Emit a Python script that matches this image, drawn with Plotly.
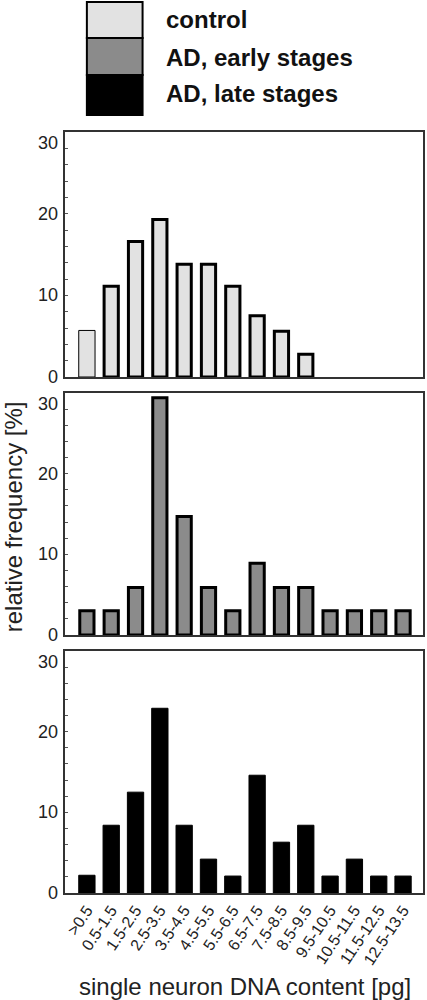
import plotly.graph_objects as go

# ---------------- data ----------------
categories = [">0.5", "0.5-1.5", "1.5-2.5", "2.5-3.5", "3.5-4.5", "4.5-5.5", "5.5-6.5",
              "6.5-7.5", "7.5-8.5", "8.5-9.5", "9.5-10.5", "10.5-11.5", "11.5-12.5", "12.5-13.5"]
control = [5.7, 11.1, 16.6, 19.3, 13.8, 13.8, 11.1, 7.5, 5.6, 2.8, None, None, None, None]
ad_early = [3.0, 3.0, 5.9, 29.4, 14.7, 5.9, 3.0, 8.9, 5.9, 5.9, 3.0, 3.0, 3.0, 3.0]
ad_late = [2.2, 8.4, 12.5, 22.9, 8.4, 4.2, 2.1, 14.6, 6.3, 8.4, 2.1, 4.2, 2.1, 2.1]
y_tick_values = [0, 10, 20, 30]
series_names = ["control", "AD, early stages", "AD, late stages"]
series_colors = ["#e2e2e2", "#8b8b8b", "#000000"]

FONT = "Liberation Sans, Arial, sans-serif"
W, H = 427, 1000
ML, MR, MT, MB = 65, 2, 132, 107
plot_h = H - MT - MB
plot_w = W - ML - MR

def py(px):  # page pixel y -> paper fraction
    return (H - MB - px) / plot_h

def pxx(px):  # page pixel x -> paper fraction
    return (px - ML) / plot_w

xpos = list(range(len(categories)))

# outline widths: first control bar thin, others thick
ctrl_lw = [1] + [3] * (len(categories) - 1)
ctrl_w = [0.67] + [0.585] * (len(categories) - 1)

fig = go.Figure()
fig.add_trace(go.Bar(x=xpos, y=control, xaxis="x", yaxis="y", width=ctrl_w,
                     marker=dict(color=series_colors[0], line=dict(color="#000", width=ctrl_lw)),
                     name=series_names[0], showlegend=False))
fig.add_trace(go.Bar(x=xpos, y=ad_early, xaxis="x2", yaxis="y2", width=0.585,
                     marker=dict(color=series_colors[1], line=dict(color="#000", width=3)),
                     name=series_names[1], showlegend=False))
fig.add_trace(go.Bar(x=xpos, y=ad_late, xaxis="x3", yaxis="y3", width=0.67,
                     marker=dict(color=series_colors[2], line=dict(color="#000", width=1)),
                     name=series_names[2], showlegend=False))

domains = [[py(377), py(132)], [py(635), py(393)], [py(893), py(651)]]
xr = [-0.9, 13.82]

def xaxis(anchor, show_labels):
    return dict(domain=[0, 1], anchor=anchor, range=xr, showgrid=False, zeroline=False,
                showline=True, linecolor="#333", linewidth=1.5, mirror=True,
                ticks="", tickvals=xpos, ticktext=categories, showticklabels=show_labels,
                tickangle=-56, tickfont=dict(family=FONT, size=16, color="#222"))

def yaxis(anchor, dom):
    return dict(domain=dom, anchor=anchor, range=[0, 30], showgrid=False, zeroline=False,
                showline=True, linecolor="#333", linewidth=1.5, mirror=True,
                tickvals=y_tick_values, ticks="inside", ticklen=3, tickcolor="#555",
                showticklabels=False,
                minor=dict(dtick=2, ticks="inside", ticklen=3, tickcolor="#555"))

fig.update_layout(
    width=W, height=H, autosize=False,
    margin=dict(l=ML, r=MR, t=MT, b=MB, pad=0),
    paper_bgcolor="white", plot_bgcolor="white",
    bargap=0.3, showlegend=False,
    xaxis=xaxis("y", False), xaxis2=xaxis("y2", False), xaxis3=xaxis("y3", True),
    yaxis=yaxis("x", domains[0]), yaxis2=yaxis("x2", domains[1]), yaxis3=yaxis("x3", domains[2]),
)

# y tick labels (top label sits a little below the frame, as in the original)
for yref in ["y", "y2", "y3"]:
    for v in y_tick_values:
        fig.add_annotation(xref="paper", yref=yref, x=pxx(60), y=v, xanchor="right",
                           yanchor="middle", text=str(v), showarrow=False,
                           yshift=-11 if v == max(y_tick_values) else 0,
                           font=dict(family=FONT, size=18, color="#222"))

# legend block (stacked swatches) and labels
swatch_edges = [2, 38, 75, 115]
label_centers = [20, 57, 94]
for i, name in enumerate(series_names):
    fig.add_shape(type="rect", xref="paper", yref="paper",
                  x0=pxx(87), x1=pxx(143), y0=py(swatch_edges[i + 1]), y1=py(swatch_edges[i]),
                  fillcolor=series_colors[i], line=dict(color="#000", width=2))
    fig.add_annotation(xref="paper", yref="paper", x=pxx(165), y=py(label_centers[i]),
                       xanchor="left", yanchor="middle", text="<b>%s</b>" % name, showarrow=False,
                       font=dict(family=FONT, size=24, color="#111"))

fig.add_annotation(xref="paper", yref="paper", x=pxx(246), y=py(986), xanchor="center",
                   yanchor="middle", text="single neuron DNA content [pg]", showarrow=False,
                   font=dict(family=FONT, size=24, color="#222"))
fig.add_annotation(xref="paper", yref="paper", x=pxx(13), y=py(517), xanchor="center",
                   yanchor="middle", text="relative frequency [%]", textangle=-90, showarrow=False,
                   font=dict(family=FONT, size=24, color="#222"))

fig.write_html("out.html", config={"displayModeBar": False},
               post_script="document.body.style.margin='0';document.body.style.overflow='hidden';")
